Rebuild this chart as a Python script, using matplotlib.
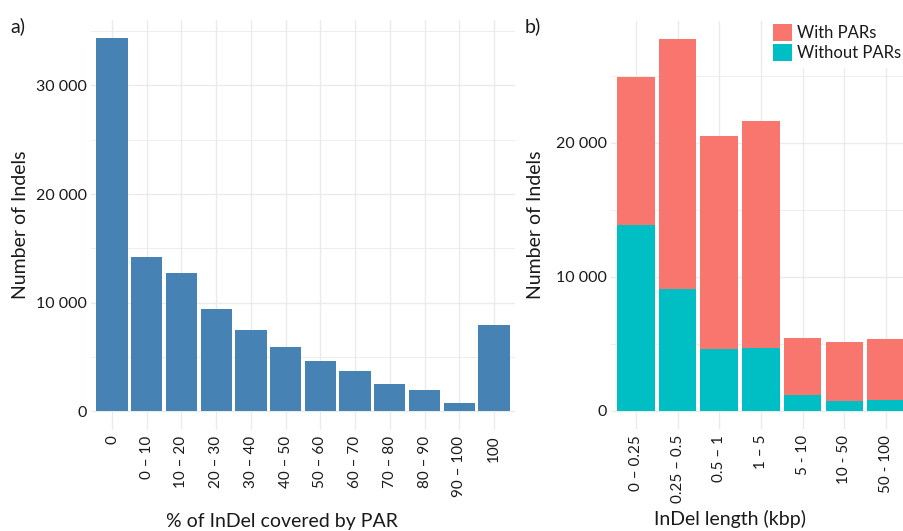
import numpy as np
import matplotlib.pyplot as plt
from matplotlib.ticker import MultipleLocator, FuncFormatter

plt.rcParams['font.family'] = ['Lato', 'DejaVu Sans']

# panel a: coverage of InDels by PARs
cov_labels = ['0', '0 – 10', '10 – 20', '20 – 30', '30 – 40', '40 – 50',
              '50 – 60', '60 – 70', '70 – 80', '80 – 90', '90 – 100', '100']
cov_counts = [34350, 14170, 12730, 9420, 7515, 5950, 4635, 3680, 2520, 1930, 770, 7975]

# panel b: InDel length, stacked
len_labels = ['0 – 0.25', '0.25 – 0.5', '0.5 – 1', '1 – 5', '5 - 10', '10 - 50', '50 - 100']
total = [24925, 27716, 20500, 21620, 5400, 5100, 5330]
without_par = [13860, 9104, 4604, 4700, 1170, 700, 775]
with_par = [t - w for t, w in zip(total, without_par)]

grid_col = '#ebebeb'
txt_col = '#1a1a1a'

def thousands(v, pos):
    return f"{int(v):,}".replace(",", " ")

def style(ax, n, ymax):
    ax.set_xlim(-0.6, n - 1 + 0.6)
    pad = ymax * 0.05
    ax.set_ylim(-pad, ymax + pad)
    for s in ax.spines.values():
        s.set_visible(False)
    ax.yaxis.set_major_locator(MultipleLocator(10000))
    ax.yaxis.set_minor_locator(MultipleLocator(5000))
    ax.yaxis.set_major_formatter(FuncFormatter(thousands))
    ax.grid(True, which='major', color=grid_col, lw=1.0)
    ax.grid(True, which='minor', axis='y', color=grid_col, lw=0.6)
    ax.set_axisbelow(True)
    ax.tick_params(length=0, labelsize=11.5, labelcolor=txt_col, pad=3)
    ax.tick_params(axis='x', rotation=90, pad=4, labelsize=11)
    ax.tick_params(which='minor', length=0)

fig = plt.figure(figsize=(9.04, 5.31), dpi=100)

ax1 = fig.add_axes([0.1009, 0.1902, 0.4686, 0.7729])
x1 = np.arange(len(cov_labels))
ax1.bar(x1, cov_counts, width=0.9, color='#4682B4')
ax1.set_xticks(x1)
ax1.set_xticklabels(cov_labels)
style(ax1, len(cov_labels), max(cov_counts))
ax1.set_ylabel('Number of Indels', fontsize=14, color=txt_col, va='center')
ax1.yaxis.set_label_coords(-0.168, 0.5)
ax1.set_xlabel('% of InDel covered by PAR', fontsize=14, color=txt_col, va='center')
ax1.xaxis.set_label_coords(0.45, -0.223)
fig.text(10 / 904, 1 - 26 / 531, 'a)', fontsize=14, color=txt_col, va='center')

ax2 = fig.add_axes([0.6757, 0.1915, 0.3321, 0.7695])
x2 = np.arange(len(len_labels))
ax2.bar(x2, without_par, width=0.9, color='#00BFC4', label='Without PARs')
ax2.bar(x2, with_par, width=0.9, bottom=without_par, color='#F8766D', label='With PARs')
ax2.set_xticks(x2)
ax2.set_xticklabels(len_labels)
style(ax2, len(len_labels), max(total))
ax2.set_ylabel('Number of Indels', fontsize=14, color=txt_col, va='center')
ax2.yaxis.set_label_coords(-0.2525, 0.5)
ax2.set_xlabel('InDel length (kbp)', fontsize=14, color=txt_col, va='center')
ax2.xaxis.set_label_coords(0.397, -0.22)
fig.text(525 / 904, 1 - 26 / 531, 'b)', fontsize=14, color=txt_col, va='center')

h, l = ax2.get_legend_handles_labels()
leg = fig.legend(h[::-1], l[::-1], loc='upper left',
                 bbox_to_anchor=(766 / 904, 1 - 17 / 531),
                 fontsize=12, frameon=True, facecolor='white', edgecolor='none',
                 framealpha=1, fancybox=False, borderpad=0.4, borderaxespad=0,
                 handlelength=1.15, handleheight=1.25, labelspacing=0.15,
                 handletextpad=0.3)
for t in leg.get_texts():
    t.set_color(txt_col)

fig.savefig('out.png', dpi=100)
